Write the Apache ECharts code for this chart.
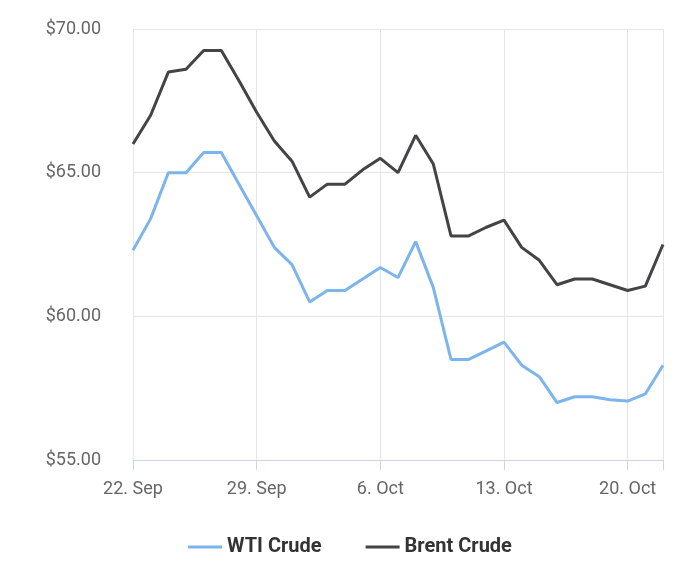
<!DOCTYPE html><html><head><meta charset="utf-8">
<script src="https://cdn.jsdelivr.net/npm/echarts@6/dist/echarts.min.js"></script>
<style>body{margin:0}#c{width:700px;height:582px}</style></head><body><div id="c"></div>
<script>
const tickLabels = ['22. Sep','29. Sep','6. Oct','13. Oct','20. Oct'];
const wti = [62.3,63.4,65.0,65.0,65.7,65.7,64.6,63.5,62.4,61.8,60.5,60.9,60.9,61.3,61.7,61.35,62.6,61.0,58.5,58.5,58.8,59.1,58.3,57.9,57.0,57.2,57.2,57.1,57.05,57.3,58.3];
const brent = [66.0,67.0,68.5,68.6,69.25,69.25,68.2,67.1,66.1,65.4,64.15,64.6,64.6,65.1,65.5,65.0,66.3,65.3,62.8,62.8,63.1,63.35,62.4,61.95,61.1,61.3,61.3,61.1,60.9,61.05,62.5];
const toPts = a => a.map((v,i)=>[i,v]);
const chart = echarts.init(document.getElementById('c'));
chart.setOption({
  animation:false,
  grid:{left:133,right:37,top:29,bottom:122},
  textStyle:{fontFamily:'Roboto'},
  xAxis:{type:'value',min:0,max:30,interval:7,
    axisLine:{lineStyle:{color:'#ccd6eb'}},axisTick:{show:true,length:10,lineStyle:{color:'#ccd6eb'}},
    splitLine:{show:true,lineStyle:{color:'#e6e6e6'}},
    axisLabel:{color:'#666',fontSize:18,margin:20,formatter:v=>tickLabels[v/7]||''}},
  yAxis:{type:'value',min:55,max:70,interval:5,
    axisLine:{show:false},axisTick:{show:false},
    splitLine:{lineStyle:{color:'#e6e6e6'}},
    axisLabel:{color:'#666',fontSize:18,margin:32,formatter:v=>'$'+v.toFixed(2)}},
  legend:{bottom:20,left:'center',itemGap:44,icon:'rect',itemWidth:34,itemHeight:3,
    textStyle:{color:'#333',fontSize:20,fontWeight:'bold'}},
  series:[
    {name:'WTI Crude',type:'line',data:toPts(wti),showSymbol:false,lineStyle:{width:3,color:'#7cb5ec'},itemStyle:{color:'#7cb5ec'}},
    {name:'Brent Crude',type:'line',data:toPts(brent),showSymbol:false,lineStyle:{width:3,color:'#434348'},itemStyle:{color:'#434348'}}
  ]
});
</script></body></html>
